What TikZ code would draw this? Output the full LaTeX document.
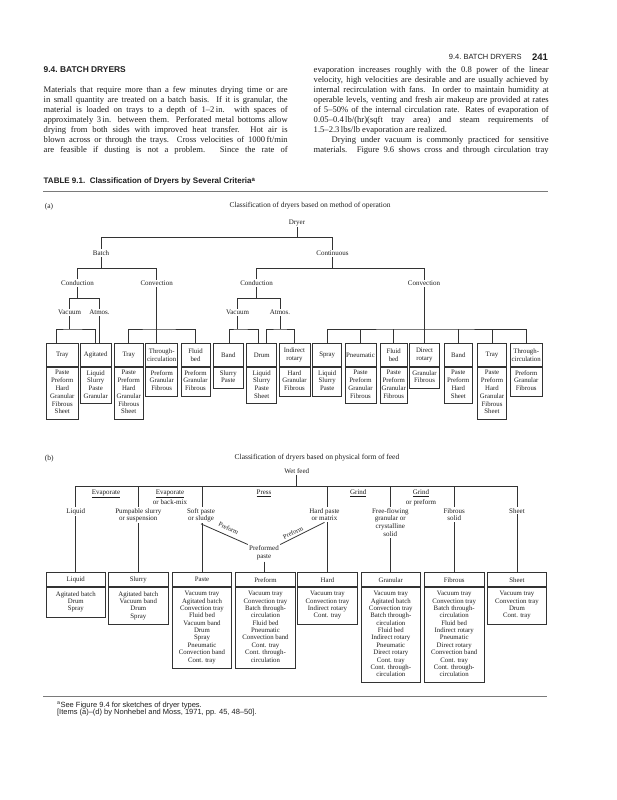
\documentclass[tikz,border=0pt]{standalone}
\usepackage{fontspec}
\setmainfont{Liberation Serif}
\setsansfont{Liberation Sans}
\usetikzlibrary{positioning}
\definecolor{ink}{HTML}{1E1E1E}
\definecolor{linegray}{HTML}{333333}
\definecolor{rulegray}{HTML}{7A7A7A}
\newcommand{\jline}[2]{\makebox[#1][s]{#2}}

\begin{document}
\begin{tikzpicture}[x=1pt,y=-1pt,line width=.8pt,
 conn/.style={draw=linegray},
 lbl/.style={inner sep=1pt,align=center,text=ink,font=\fontsize{7}{7.8}\selectfont},
 onln/.style={lbl,fill=white,anchor=north},
 ulbl/.style={lbl,anchor=north,font=\fontsize{7}{10}\selectfont},
 slant/.style={lbl,inner sep=0pt,font=\fontsize{6.5}{7}\selectfont},
 hdra/.style={draw=linegray,text=ink,inner sep=1pt,align=center,minimum height=23.3pt,font=\fontsize{6.8}{7.8}\selectfont},
 lsta/.style={draw=linegray,text=ink,inner xsep=1pt,inner ysep=2.9pt,align=center,font=\fontsize{6.8}{7.8}\selectfont,execute at begin node=\strut,execute at end node=\strut},
 hdrb/.style={draw=linegray,text=ink,inner sep=1pt,minimum width=59.5pt,minimum height=14pt,font=\fontsize{6.8}{7.35}\selectfont},
 lstb/.style={draw=linegray,text=ink,inner xsep=1pt,inner ysep=3.9pt,minimum width=59.5pt,align=center,font=\fontsize{6.8}{7.35}\selectfont,execute at begin node=\strut,execute at end node=\strut},
 para/.style={inner sep=0pt,anchor=north west,align=left,text=ink,font=\fontsize{8.6}{9.95}\selectfont}]
\path[use as bounding box,fill=white] (0,0) rectangle (617,800);

\node[anchor=east,inner sep=0pt,text=ink,font=\sffamily\fontsize{7.5}{9}\selectfont] (runhead) at (522,57.3){9.4.\ BATCH DRYERS};
\node[anchor=east,inner sep=0pt,text=ink,font=\sffamily\bfseries\fontsize{9.5}{11}\selectfont] (pageno) at (548.3,57.3){241};
\node[anchor=west,inner sep=0pt,text=ink,font=\sffamily\bfseries\fontsize{8.4}{10}\selectfont] (sechead) at (43.3,69.3){9.4.\ BATCH DRYERS};
\node[para] (lcol) at (43.3,86){%
\jline{244pt}{Materials that require more than a few minutes drying time or are}\\
\jline{244pt}{in small quantity are treated on a batch basis. If it is granular, the}\\
\jline{244pt}{material is loaded on trays to a depth of 1--2\,in. with spaces of}\\
\jline{244pt}{approximately 3\,in. between them. Perforated metal bottoms allow}\\
\jline{244pt}{drying from both sides with improved heat transfer. Hot air is}\\
\jline{244pt}{blown across or through the trays. Cross velocities of 1000\,ft/min}\\
\jline{244pt}{are feasible if dusting is not a problem. Since the rate of}};
\node[para] (rcol) at (313.3,66){%
\jline{235pt}{evaporation increases roughly with the 0.8 power of the linear}\\
\jline{235pt}{velocity, high velocities are desirable and are usually achieved by}\\
\jline{235pt}{internal recirculation with fans. In order to maintain humidity at}\\
\jline{235pt}{operable levels, venting and fresh air makeup are provided at rates}\\
\jline{235pt}{of 5--50\% of the internal circulation rate. Rates of evaporation of}\\
\jline{235pt}{0.05--0.4\,lb/(hr)(sqft tray area) and steam requirements of}\\
1.5--2.3\,lbs/lb evaporation are realized.\\
\hspace*{18pt}\jline{217pt}{Drying under vacuum is commonly practiced for sensitive}\\
\jline{235pt}{materials. Figure 9.6 shows cross and through circulation tray}};
\node[anchor=west,inner sep=0pt,text=ink,font=\sffamily\bfseries\fontsize{8}{10}\selectfont] (tabhead) at (43.3,181.7){TABLE 9.1.\ \ Classification of Dryers by Several Criteria\textsuperscript{a}};
\draw[rulegray,line width=1pt] (43,191.7)--(548,191.7);

\node[lbl,anchor=west,font=\fontsize{7.5}{9}\selectfont] (parta) at (43.5,207){(a)};
\node[lbl,font=\fontsize{7.5}{9}\selectfont] (titlea) at (310,206){Classification of dryers based on method of operation};
\node[lbl] (dryer) at (297,223){Dryer};
\node[lbl] (batch) at (101,253.3){Batch};
\node[lbl] (cont) at (332.5,253.3){Continuous};
\node[lbl] (bcond) at (77.5,283.3){Conduction};
\node[lbl] (bconv) at (156.7,283.3){Convection};
\node[lbl] (ccond) at (256.6,283.3){Conduction};
\node[lbl] (cconv) at (424,283.3){Convection};
\node[lbl] (bvac) at (69.5,312.7){Vacuum};
\node[lbl] (batm) at (99.5,312.7){Atmos.};
\node[lbl] (cvac) at (237.5,312.7){Vacuum};
\node[lbl] (catm) at (280,312.7){Atmos.};

\foreach \n/\x/\w/\h/\c in {
 tray1/62.3/32.7/{Tray}/{Paste\\Preform\\Hard\\Granular\\Fibrous\\Sheet},
 agit/95.7/30.7/{Agitated}/{Liquid\\Slurry\\Paste\\Granular},
 tray2/128.8/29/{Tray}/{Paste\\Preform\\Hard\\Granular\\Fibrous\\Sheet},
 thr1/161.7/32/{Through-\\circulation}/{Preform\\Granular\\Fibrous},
 fluid1/195.5/29/{Fluid\\bed}/{Preform\\Granular\\Fibrous},
 band1/228.3/30/{Band}/{Slurry\\Paste},
 drum/261.7/30/{Drum}/{Liquid\\Slurry\\Paste\\Sheet},
 indrot/294.5/31/{Indirect\\rotary}/{Hard\\Granular\\Fibrous},
 spray/327.2/29/{Spray}/{Liquid\\Slurry\\Paste},
 pneu/360.5/31/{Pneumatic}/{Paste\\Preform\\Granular\\Fibrous},
 fluid2/393.7/27.3/{Fluid\\bed}/{Paste\\Preform\\Granular\\Fibrous},
 dirrot/424.5/29.3/{Direct\\rotary}/{Granular\\Fibrous},
 band2/458.3/28.7/{Band}/{Paste\\Preform\\Hard\\Sheet},
 tray3/492/29.3/{Tray}/{Paste\\Preform\\Hard\\Granular\\Fibrous\\Sheet},
 thr2/526.2/32.3/{Through-\\circulation}/{Preform\\Granular\\Fibrous}}{
 \node[hdra,minimum width=\w pt] (\n) at (\x,355.05){\h};
 \node[lsta,minimum width=\w pt,below=0pt of \n] (\n l){\c};
}

\coordinate (j0) at (297,237.7); \coordinate (j1) at (101,268.3); \coordinate (j2) at (332.5,268.3);
\coordinate (j3) at (77.5,298.3); \coordinate (j4) at (256.6,298.3);
\coordinate (j5) at (69.5,329); \coordinate (j6) at (156.7,329); \coordinate (j7) at (237.5,329);
\coordinate (j8) at (280,329); \coordinate (j9) at (424,329);
\draw[conn] (dryer)--(j0); \draw[conn] (batch)|-(j0)-|(cont);
\draw[conn] (batch)--(j1); \draw[conn] (bcond)|-(j1)-|(bconv);
\draw[conn] (cont)--(j2); \draw[conn] (ccond)|-(j2)-|(cconv);
\draw[conn] (bcond)--(j3); \draw[conn] (bvac)|-(j3)-|(batm);
\draw[conn] (ccond)--(j4); \draw[conn] (cvac)|-(j4)-|(catm);
\draw[conn] (bvac)--(j5); \draw[conn] ([xshift=-5.6pt]tray1.north)|-(j5)-|([xshift=-.7pt]agit.north);
\draw[conn] (batm)--(batm|-agit.north);
\draw[conn] (bconv)--(bconv|-thr1.north); \draw[conn] (tray2)|-(j6)-|(fluid1);
\draw[conn] (cvac)--(j7); \draw[conn] ([xshift=1pt]band1.north)|-(j7)-|([xshift=-3.7pt]drum.north);
\draw[conn] (catm)--(j8); \draw[conn] ([xshift=4.3pt]drum.north)|-(j8)-|(indrot);
\draw[conn] (cconv)--(j9); \draw[conn] (spray)|-(j9)-|(thr2);
\foreach \b in {pneu,fluid2,dirrot,band2,tray3} \draw[conn] (\b)--(\b|-j9);

\node[lbl,anchor=west,font=\fontsize{7.5}{9}\selectfont] (partb) at (43.5,459){(b)};
\node[lbl,font=\fontsize{7.5}{9}\selectfont] (titleb) at (317,458){Classification of dryers based on physical form of feed};
\node[lbl] (wet) at (296.7,470.7){Wet feed};

\foreach \n/\x/\h/\c in {
 bliq/75.8/Liquid/{Agitated batch\\Drum\\Spray},
 bslu/138.3/Slurry/{Agitated batch\\Vacuum band\\Drum\\Spray},
 bpas/202/Paste/{Vacuum tray\\Agitated batch\\Convection tray\\Fluid bed\\Vacuum band\\Drum\\Spray\\Pneumatic\\Convection band\\Cont. tray},
 bpre/265.5/Preform/{Vacuum tray\\Convection tray\\Batch through-\\circulation\\Fluid bed\\Pneumatic\\Convection band\\Cont. tray\\Cont. through-\\circulation},
 bhar/327.5/Hard/{Vacuum tray\\Convection tray\\Indirect rotary\\Cont. tray},
 bgra/390.8/Granular/{Vacuum tray\\Agitated batch\\Convection tray\\Batch through-\\circulation\\Fluid bed\\Indirect rotary\\Pneumatic\\Direct rotary\\Cont. tray\\Cont. through-\\circulation},
 bfib/454.2/Fibrous/{Vacuum tray\\Convection tray\\Batch through-\\circulation\\Fluid bed\\Indirect rotary\\Pneumatic\\Direct rotary\\Convection band\\Cont. tray\\Cont. through-\\circulation},
 bshe/517/Sheet/{Vacuum tray\\Convection tray\\Drum\\Cont. tray}}{
 \node[hdrb] (\n) at (\x,579.7){\h};
 \node[lstb,below=0pt of \n] (\n l){\c};
}

\coordinate (jb) at (296.7,486);
\draw[conn] (wet)--(jb); \draw[conn] (bliq.north|-jb)--(bshe.north|-jb);
\foreach \b in {bliq,bslu,bpas,bhar,bgra,bfib,bshe} \draw[conn] (\b.north|-jb)--(\b.north);
\node[ulbl] (evap1) at (106,488.5){\underline{Evaporate}};
\node[ulbl] (evap2) at (170,488.5){\underline{Evaporate}\\or back-mix};
\node[ulbl] (press) at (264,488.5){\underline{Press}};
\node[ulbl] (grind1) at (358.3,488.5){\underline{Grind}};
\node[ulbl] (grind2) at (421,488.5){\underline{Grind}\\or preform};
\node[onln] (lliq) at (75.8,506.8){Liquid};
\node[onln] (lslu) at (138.3,506.8){Pumpable slurry\\or suspension};
\node[onln] (lpas) at (201,506.8){Soft paste\\or sludge};
\node[onln] (lhar) at (324.5,506.8){Hard paste\\or matrix};
\node[onln] (lgra) at (390.3,506.8){Free-flowing\\granular or\\crystalline\\solid};
\node[onln] (lfib) at (454.2,506.8){Fibrous\\solid};
\node[onln] (lshe) at (517,506.8){Sheet};
\node[lbl] (ppaste) at (264,553){Preformed\\paste};
\draw[conn] (lpas.south)--(ppaste.north west);
\draw[conn] (ppaste.north east)--(lhar.south);
\node[slant,rotate=-26] (pf1) at (228.6,528.4){Preform};
\node[slant,rotate=26] (pf2) at (293,532.6){Preform};
\draw[conn] (ppaste)--(ppaste|-bpre.north);

\draw[rulegray,line width=1pt] (43,696)--(547,696);
\node[anchor=west,inner sep=0pt,text=ink,font=\sffamily\fontsize{7.5}{9}\selectfont] (note1) at (56.7,705){\textsuperscript{a}See Figure 9.4 for sketches of dryer types.};
\node[anchor=west,inner sep=0pt,text=ink,font=\sffamily\fontsize{7.5}{9}\selectfont] (note2) at (56.7,712.7){[Items (a)--(d) by Nonhebel and Moss, 1971, pp. 45, 48--50].};
\end{tikzpicture}
\end{document}
